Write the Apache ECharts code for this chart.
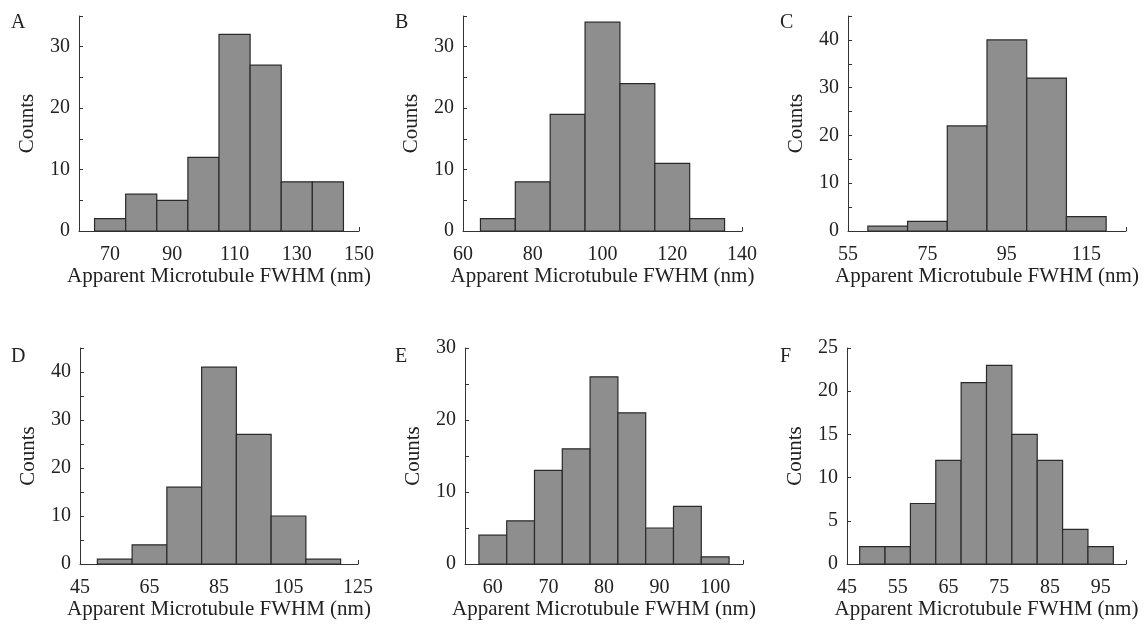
<!DOCTYPE html>
<html>
<head>
<meta charset="UTF-8">
<title>Apparent Microtubule FWHM histograms</title>
<script src="https://cdn.jsdelivr.net/npm/echarts@6/dist/echarts.min.js"></script>
<style>
  html, body { margin: 0; padding: 0; background: #fff; }
  #main { width: 1146px; height: 627px; }
</style>
</head>
<body>
<div id="main"></div>
<script>
// panel letters
var panelNames = ['A', 'B', 'C', 'D', 'E', 'F'];

// bin edges (nm) and counts
var edgesA = [65, 75, 85, 95, 105, 115, 125, 135, 145];
var countsA = [2, 6, 5, 12, 32, 27, 8, 8];

var edgesB = [65, 75, 85, 95, 105, 115, 125, 135];
var countsB = [2, 8, 19, 34, 24, 11, 2];

var edgesC = [60, 70, 80, 90, 100, 110, 120];
var countsC = [1, 2, 22, 40, 32, 3];

var edgesD = [50, 60, 70, 80, 90, 100, 110, 120];
var countsD = [1, 4, 16, 41, 27, 10, 1];

var edgesE = [57.5, 62.5, 67.5, 72.5, 77.5, 82.5, 87.5, 92.5, 97.5, 102.5];
var countsE = [4, 6, 13, 16, 26, 21, 5, 8, 1];

var edgesF = [47.5, 52.5, 57.5, 62.5, 67.5, 72.5, 77.5, 82.5, 87.5, 92.5, 97.5];
var countsF = [2, 2, 7, 12, 21, 23, 15, 12, 4, 2];

// x tick labels shown on each panel
var xLabelsA = [70, 90, 110, 130, 150];
var xLabelsB = [60, 80, 100, 120, 140];
var xLabelsC = [55, 75, 95, 115];
var xLabelsD = [45, 65, 85, 105, 125];
var xLabelsE = [60, 70, 80, 90, 100];
var xLabelsF = [45, 55, 65, 75, 85, 95];

// y tick labels shown on each panel
var yLabelsA = [0, 10, 20, 30];
var yLabelsB = [0, 10, 20, 30];
var yLabelsC = [0, 10, 20, 30, 40];
var yLabelsD = [0, 10, 20, 30, 40];
var yLabelsE = [0, 10, 20, 30];
var yLabelsF = [0, 5, 10, 15, 20, 25];

var xAxisTitle = 'Apparent Microtubule FWHM (nm)';
var yAxisTitle = 'Counts';

var panels = [
  {edges: edgesA, counts: countsA, xl: xLabelsA, yl: yLabelsA, xmin: 60, xmax: 150, xstep: 10, ymax: 35, ystep: 5,
   grid: {left: 79, top: 16, width: 280, height: 215}, letter: [11, 13]},
  {edges: edgesB, counts: countsB, xl: xLabelsB, yl: yLabelsB, xmin: 60, xmax: 140, xstep: 10, ymax: 35, ystep: 5,
   grid: {left: 463, top: 16, width: 279, height: 215}, letter: [395, 13]},
  {edges: edgesC, counts: countsC, xl: xLabelsC, yl: yLabelsC, xmin: 55, xmax: 125, xstep: 10, ymax: 45, ystep: 5,
   grid: {left: 848, top: 16, width: 278, height: 215}, letter: [780, 13]},
  {edges: edgesD, counts: countsD, xl: xLabelsD, yl: yLabelsD, xmin: 45, xmax: 125, xstep: 10, ymax: 45, ystep: 5,
   grid: {left: 80, top: 348, width: 278, height: 216}, letter: [11, 347]},
  {edges: edgesE, counts: countsE, xl: xLabelsE, yl: yLabelsE, xmin: 55, xmax: 105, xstep: 5, ymax: 30, ystep: 5,
   grid: {left: 465, top: 348, width: 278, height: 216}, letter: [395, 347]},
  {edges: edgesF, counts: countsF, xl: xLabelsF, yl: yLabelsF, xmin: 45, xmax: 100, xstep: 5, ymax: 25, ystep: 5,
   grid: {left: 847, top: 348, width: 279, height: 216}, letter: [780, 347]}
];

var font = '"Liberation Serif", "Times New Roman", serif';
var axisColor = '#333';
var textColor = '#222';

var grids = [], xAxes = [], yAxes = [], series = [], titles = [];

panels.forEach(function (p, i) {
  grids.push(p.grid);
  xAxes.push({
    type: 'value', gridIndex: i, min: p.xmin, max: p.xmax, interval: p.xstep,
    name: xAxisTitle, nameLocation: 'middle', nameGap: 28,
    nameTextStyle: {fontFamily: font, fontSize: 21, color: textColor},
    axisLine: {onZero: false, lineStyle: {color: axisColor, width: 1}},
    axisTick: {inside: true, length: 4, lineStyle: {color: axisColor}},
    axisLabel: {
      fontFamily: font, fontSize: 20, color: textColor, margin: 14,
      showMinLabel: true, showMaxLabel: true,
      formatter: (function (labels) {
        return function (v) { return labels.indexOf(v) >= 0 ? String(v) : ''; };
      })(p.xl)
    },
    splitLine: {show: false}
  });
  yAxes.push({
    type: 'value', gridIndex: i, min: 0, max: p.ymax, interval: p.ystep,
    name: yAxisTitle, nameLocation: 'middle', nameGap: 41,
    nameTextStyle: {fontFamily: font, fontSize: 21, color: textColor},
    axisLine: {show: true, lineStyle: {color: axisColor, width: 1}},
    axisTick: {show: true, inside: true, length: 4, lineStyle: {color: axisColor}},
    axisLabel: {
      fontFamily: font, fontSize: 20, color: textColor, margin: 9,
      formatter: (function (labels) {
        return function (v) { return labels.indexOf(v) >= 0 ? String(v) : ''; };
      })(p.yl)
    },
    splitLine: {show: false}
  });

  var data = p.counts.map(function (c, k) { return [p.edges[k], p.edges[k + 1], c]; });
  series.push({
    type: 'custom', xAxisIndex: i, yAxisIndex: i, data: data,
    encode: {x: [0, 1], y: 2},
    renderItem: function (params, api) {
      var p0 = api.coord([api.value(0), api.value(2)]);
      var p1 = api.coord([api.value(1), 0]);
      return {
        type: 'rect',
        shape: {x: p0[0], y: p0[1], width: p1[0] - p0[0], height: p1[1] - p0[1]},
        style: {fill: '#8e8e8e', stroke: '#2a2a2a', lineWidth: 1.2}
      };
    },
    z: 1
  });

  titles.push({
    text: panelNames[i], left: p.letter[0], top: p.letter[1], padding: 0,
    textStyle: {fontFamily: font, fontSize: 20, fontWeight: 'normal', color: textColor}
  });
});

var myChart = echarts.init(document.getElementById('main'));
myChart.setOption({
  animation: false,
  backgroundColor: '#fff',
  title: titles,
  grid: grids,
  xAxis: xAxes,
  yAxis: yAxes,
  series: series
});
</script>
</body>
</html>
